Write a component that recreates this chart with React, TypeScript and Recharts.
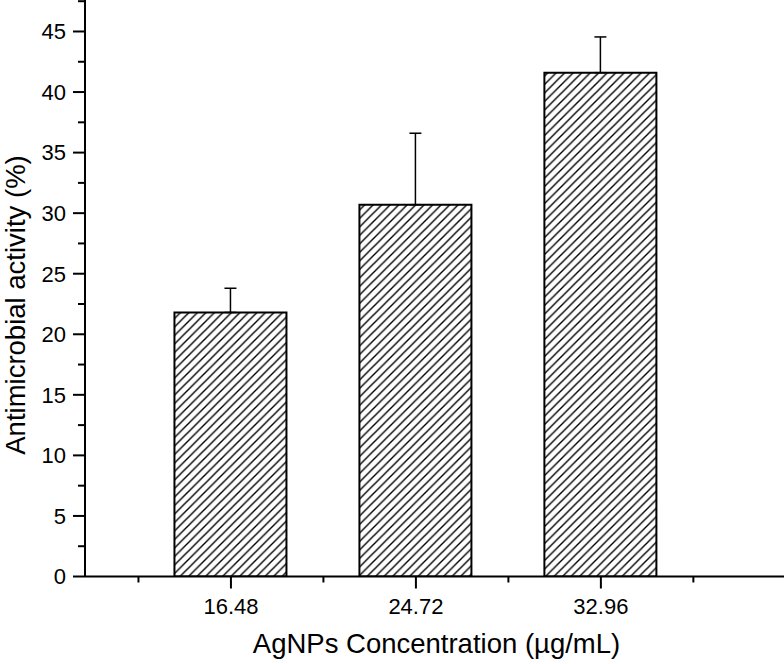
import React from 'react';
import { ComposedChart, Bar, XAxis, YAxis, ErrorBar } from 'recharts';

const categories = ['16.48', '24.72', '32.96'];
const activity = [21.8, 30.7, 41.6];
const activityErr = [2.0, 5.9, 2.95];
const xTicks = [0.5, 1, 1.5, 2, 2.5, 3, 3.5];
const yTicks = [0, 2.5, 5, 7.5, 10, 12.5, 15, 17.5, 20, 22.5, 25, 27.5, 30, 32.5, 35, 37.5, 40, 42.5, 45, 47.5];

const data = categories.map((c, i) => ({
  pos: i + 1,
  label: c,
  value: activity[i],
  err: [0, activityErr[i]],
}));

const FONT = '"Liberation Sans", Arial, Helvetica, sans-serif';

const XTick = (props: any) => {
  const { x, y, payload } = props;
  const v = payload.value;
  const isMajor = Number.isInteger(v);
  const idx = Math.round(v) - 1;
  return (
    <g>
      <line x1={x} x2={x} y1={y} y2={y + (isMajor ? 12 : 6)} stroke="#000" strokeWidth={2} />
      {isMajor && categories[idx] !== undefined && (
        <text x={x} y={y + 37.5} textAnchor="middle" fontSize={22} fontFamily={FONT} fill="#000">
          {categories[idx]}
        </text>
      )}
    </g>
  );
};

const YTick = (props: any) => {
  const { x, y, payload } = props;
  const v = payload.value;
  const isMajor = Math.abs(v % 5) < 1e-6;
  return (
    <g>
      <line x1={x} x2={x - (isMajor ? 12 : 7)} y1={y} y2={y} stroke="#000" strokeWidth={2} />
      {isMajor && (
        <text x={x - 19} y={y + 7.8} textAnchor="end" fontSize={22} fontFamily={FONT} fill="#000">
          {v}
        </text>
      )}
    </g>
  );
};

const XLabel = (props: any) => {
  const vb = props.viewBox;
  return (
    <text x={vb.x + vb.width / 2 + 2} y={vb.y + 76.5} textAnchor="middle" fontSize={27.5} fontFamily={FONT} fill="#000">
      AgNPs Concentration (µg/mL)
    </text>
  );
};

const YLabel = (props: any) => {
  const cx = 25;
  const cy = 305;
  return (
    <text x={cx} y={cy} transform={`rotate(-90 ${cx} ${cy})`} textAnchor="middle" fontSize={27.5} fontFamily={FONT} fill="#000">
      Antimicrobial activity (%)
    </text>
  );
};

export default function App() {
  return (
    <div style={{ position: 'absolute', left: 0, top: 0, width: 784, height: 664, background: '#fff' }}>
      <ComposedChart width={784} height={664} data={data} margin={{ top: 0, right: 0, left: 0, bottom: 0 }}>
        <defs>
          <pattern id="hatch" patternUnits="userSpaceOnUse" width={8.5} height={8.5}>
            <rect width={8.5} height={8.5} fill="#fff" />
            <path d="M-2,2 L2,-2 M0,8.5 L8.5,0 M6.5,10.5 L10.5,6.5" stroke="#000" strokeWidth={1.4} />
          </pattern>
        </defs>
        <XAxis
          dataKey="pos"
          type="number"
          domain={[0.211, 3.99]}
          allowDataOverflow
          ticks={xTicks}
          interval={0}
          height={87.5}
          tickSize={0}
          tickMargin={0}
          tickLine={false}
          axisLine={{ stroke: '#000', strokeWidth: 2 }}
          tick={<XTick />}
          label={<XLabel />}
        />
        <YAxis
          type="number"
          domain={[0, 47.6]}
          allowDataOverflow
          ticks={yTicks}
          interval={0}
          width={85}
          tickSize={0}
          tickMargin={0}
          tickLine={false}
          axisLine={{ stroke: '#000', strokeWidth: 2 }}
          tick={<YTick />}
          label={<YLabel />}
        />
        <Bar dataKey="value" barSize={112} fill="url(#hatch)" stroke="#000" strokeWidth={2} isAnimationActive={false}>
          <ErrorBar dataKey="err" width={6} stroke="#000" strokeWidth={1.5} direction="y" isAnimationActive={false} />
        </Bar>
      </ComposedChart>
    </div>
  );
}
